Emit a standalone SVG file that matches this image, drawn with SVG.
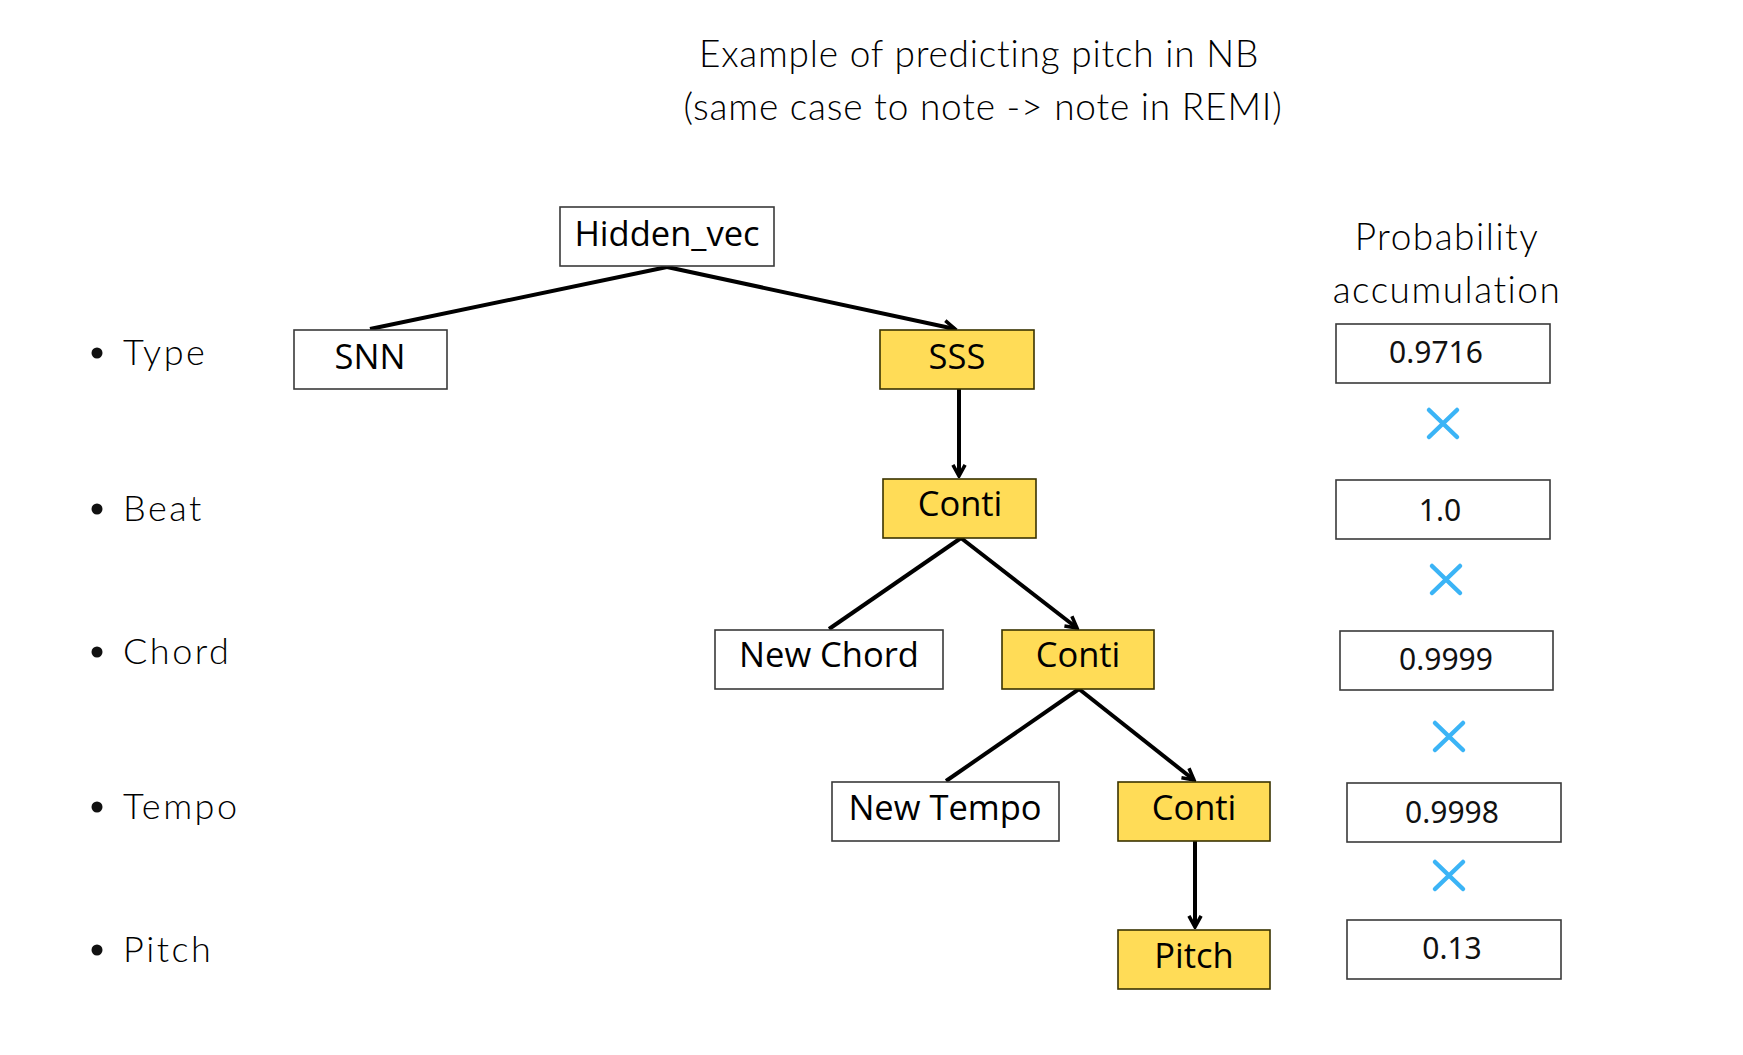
<svg xmlns="http://www.w3.org/2000/svg" width="1743" height="1055" viewBox="0 0 1743 1055">
<style>
.box{fill:#ffffff;stroke:#3a3a3a;stroke-width:1.6}
.hl{fill:#FFDC57;stroke:#3a3300;stroke-width:1.6}
.nt{font-family:"Open Sans","Noto Sans",sans-serif;font-size:34.5px;fill:#000;text-anchor:middle}
.lab{font-family:Lato,"Noto Sans",sans-serif;font-weight:300;font-size:36px;letter-spacing:2.5px;fill:#000}
.ttl{font-family:Lato,"Noto Sans",sans-serif;font-weight:300;font-size:37px;letter-spacing:0.8px;fill:#000;text-anchor:middle}
.pt{font-family:Lato,"Noto Sans",sans-serif;font-weight:300;font-size:37px;letter-spacing:1.5px;fill:#000;text-anchor:middle}
.num{font-family:"Noto Sans","Liberation Sans",sans-serif;font-size:30px;fill:#111;text-anchor:middle}
.edge{stroke:#000;stroke-width:4;fill:none}
.x{stroke:#3BB4F6;stroke-width:4.5;stroke-linecap:round;fill:none}
</style>
<defs>
<marker id="arr" viewBox="0 0 10 10" refX="8.5" refY="5" markerWidth="4" markerHeight="4" orient="auto" markerUnits="strokeWidth">
<path d="M1.5,1.2 L8.5,5 L1.5,8.8" fill="none" stroke="#000" stroke-width="2.2" stroke-linejoin="miter"/>
</marker>
</defs>
<rect width="1743" height="1055" fill="#ffffff"/>
<g id="title">
<text class="ttl" x="979" y="67" letter-spacing="1.1">Example of predicting pitch in NB</text>
<text class="ttl" x="983" y="120">(same case to note -&gt; note in REMI)</text>
</g>
<g id="labels">
<circle cx="97" cy="353" r="5.5" fill="#111"/><text class="lab" x="123" y="365">Type</text>
<circle cx="97" cy="509" r="5.5" fill="#111"/><text class="lab" x="123" y="521">Beat</text>
<circle cx="97" cy="652" r="5.5" fill="#111"/><text class="lab" x="123" y="664">Chord</text>
<circle cx="97" cy="807" r="5.5" fill="#111"/><text class="lab" x="123" y="819">Tempo</text>
<circle cx="97" cy="950" r="5.5" fill="#111"/><text class="lab" x="123" y="962">Pitch</text>
</g>
<g id="connectors">
<line class="edge" x1="667" y1="267" x2="370" y2="329"/>
<line class="edge" x1="667" y1="267" x2="955" y2="329" marker-end="url(#arr)"/>
<line class="edge" x1="959" y1="389" x2="959" y2="476" marker-end="url(#arr)"/>
<line class="edge" x1="961" y1="538" x2="829" y2="629"/>
<line class="edge" x1="961" y1="538" x2="1077" y2="628" marker-end="url(#arr)"/>
<line class="edge" x1="1079" y1="689" x2="946" y2="781"/>
<line class="edge" x1="1079" y1="689" x2="1194" y2="780" marker-end="url(#arr)"/>
<line class="edge" x1="1195" y1="841" x2="1195" y2="927" marker-end="url(#arr)"/>
</g>
<g id="n-hidden"><rect class="box" x="560" y="207" width="214" height="59"/><text class="nt" x="667" y="246">Hidden_vec</text></g>
<g id="n-snn"><rect class="box" x="294" y="330" width="153" height="59"/><text class="nt" x="370" y="369">SNN</text></g>
<g id="n-sss"><rect class="hl" x="880" y="330" width="154" height="59"/><text class="nt" x="957" y="369">SSS</text></g>
<g id="n-conti-beat"><rect class="hl" x="883" y="479" width="153" height="59"/><text class="nt" x="960" y="516">Conti</text></g>
<g id="n-newchord"><rect class="box" x="715" y="630" width="228" height="59"/><text class="nt" x="829" y="667">New Chord</text></g>
<g id="n-conti-chord"><rect class="hl" x="1002" y="630" width="152" height="59"/><text class="nt" x="1078" y="667">Conti</text></g>
<g id="n-newtempo"><rect class="box" x="832" y="782" width="227" height="59"/><text class="nt" x="945" y="820">New Tempo</text></g>
<g id="n-conti-tempo"><rect class="hl" x="1118" y="782" width="152" height="59"/><text class="nt" x="1194" y="820">Conti</text></g>
<g id="n-pitch"><rect class="hl" x="1118" y="930" width="152" height="59"/><text class="nt" x="1194" y="968">Pitch</text></g>
<g id="prob">
<text class="pt" x="1447" y="250">Probability</text>
<text class="pt" x="1447" y="303">accumulation</text>
<g id="p1"><rect class="box" x="1336" y="324" width="214" height="59"/><text class="num" x="1436" y="363">0.9716</text></g>
<g id="p2"><rect class="box" x="1336" y="480" width="214" height="59"/><text class="num" x="1440" y="521">1.0</text></g>
<g id="p3"><rect class="box" x="1340" y="631" width="213" height="59"/><text class="num" x="1446" y="670">0.9999</text></g>
<g id="p4"><rect class="box" x="1347" y="783" width="214" height="59"/><text class="num" x="1452" y="823">0.9998</text></g>
<g id="p5"><rect class="box" x="1347" y="920" width="214" height="59"/><text class="num" x="1452" y="959">0.13</text></g>
<path class="x" d="M1429,410 L1457,437 M1457,410 L1429,437"/>
<path class="x" d="M1432,566 L1460,593 M1460,566 L1432,593"/>
<path class="x" d="M1435,723 L1463,750 M1463,723 L1435,750"/>
<path class="x" d="M1435,862 L1463,889 M1463,862 L1435,889"/>
</g>
</svg>
